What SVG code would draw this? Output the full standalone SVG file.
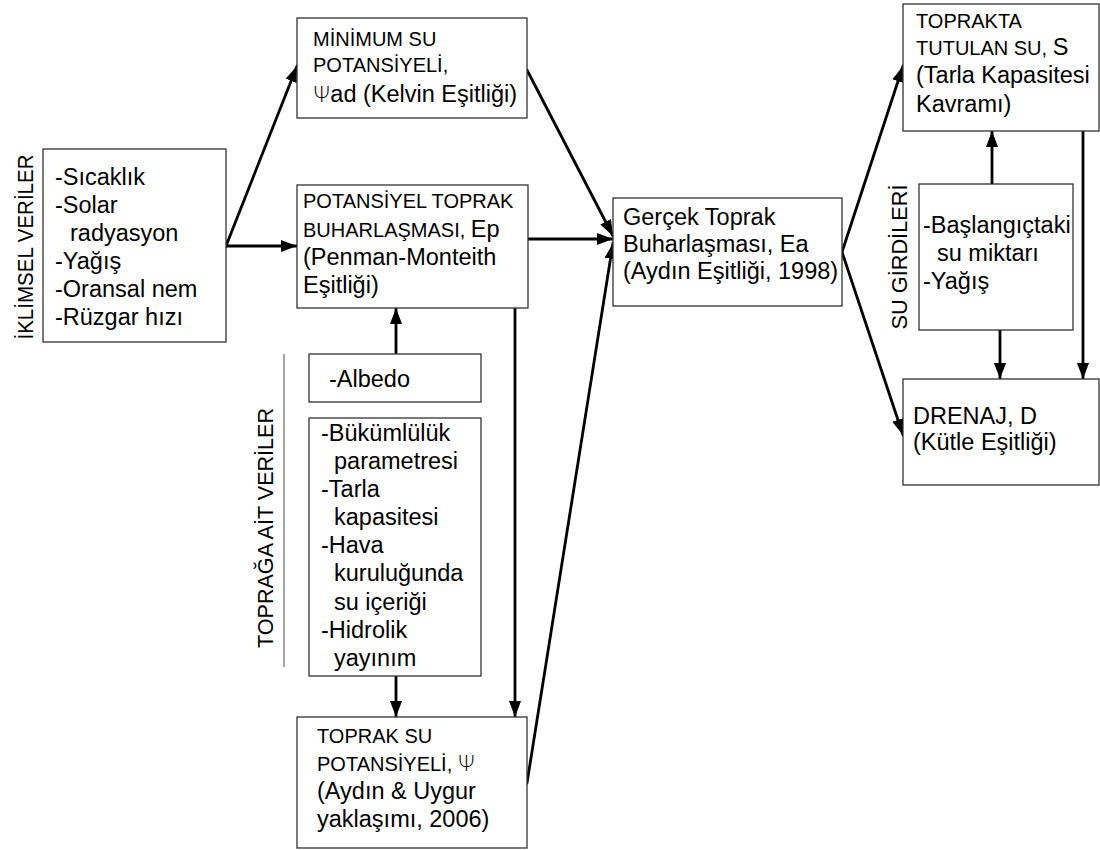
<svg xmlns="http://www.w3.org/2000/svg" width="1100" height="850" viewBox="0 0 1100 850">
<style>
.box{fill:#fff;stroke:#333;stroke-width:1.3}
.t{font-family:"Liberation Sans",Arial,sans-serif;font-size:23.5px;fill:#000}
.c{font-size:20px}
.psi{font-family:"DejaVu Sans","Liberation Sans",sans-serif;font-weight:200;font-size:22px}
.lbl{font-family:"Liberation Sans",Arial,sans-serif;font-size:22px;fill:#000}
.conn{stroke:#000;stroke-width:2.8;fill:none;stroke-linecap:round}
.sep{stroke:#777;stroke-width:1.3}
</style>
<defs>
<marker id="ah" markerUnits="userSpaceOnUse" markerWidth="17" markerHeight="12" refX="16" refY="6" orient="auto"><path d="M0,0 L16,6 L0,12 z" fill="#000"/></marker>
</defs>
<rect width="1100" height="850" fill="#fff"/>

<g id="connectors">
<line class="conn" x1="226" y1="246" x2="297" y2="66" marker-end="url(#ah)"/>
<line class="conn" x1="226" y1="246" x2="297" y2="246" marker-end="url(#ah)"/>
<line class="conn" x1="527" y1="70" x2="613" y2="236" marker-end="url(#ah)"/>
<line class="conn" x1="528" y1="239" x2="613" y2="239" marker-end="url(#ah)"/>
<line class="conn" x1="527" y1="783" x2="613" y2="243" marker-end="url(#ah)"/>
<line class="conn" x1="396" y1="354" x2="396" y2="308" marker-end="url(#ah)"/>
<line class="conn" x1="396" y1="676" x2="396" y2="717" marker-end="url(#ah)"/>
<line class="conn" x1="515" y1="308" x2="515" y2="717" marker-end="url(#ah)"/>
<line class="conn" x1="842" y1="252" x2="903" y2="66" marker-end="url(#ah)"/>
<line class="conn" x1="842" y1="252" x2="903" y2="435" marker-end="url(#ah)"/>
<line class="conn" x1="992" y1="184" x2="992" y2="131" marker-end="url(#ah)"/>
<line class="conn" x1="1000" y1="330" x2="1000" y2="379" marker-end="url(#ah)"/>
<line class="conn" x1="1083" y1="131" x2="1083" y2="379" marker-end="url(#ah)"/>
</g>

<g id="climate">
<rect class="box" x="43" y="149" width="183" height="193"/>
<text class="t" x="55" y="185">-Sıcaklık</text>
<text class="t" x="55" y="213">-Solar</text>
<text class="t" x="70" y="241">radyasyon</text>
<text class="t" x="55" y="269">-Yağış</text>
<text class="t" x="55" y="297">-Oransal nem</text>
<text class="t" x="55" y="325">-Rüzgar hızı</text>
</g>
<g id="climate-label">
<text class="lbl" transform="translate(33,247) rotate(-90)" text-anchor="middle" textLength="185" lengthAdjust="spacingAndGlyphs">İKLİMSEL VERİLER</text>
</g>

<g id="minimum">
<rect class="box" x="297" y="18" width="230" height="100"/>
<text class="t c" x="313" y="46">MİNİMUM SU</text>
<text class="t c" x="313" y="72">POTANSİYELİ,</text>
<text class="t" x="313" y="102"><tspan class="psi">Ψ</tspan>ad (Kelvin Eşitliği)</text>
</g>

<g id="potansiyel">
<rect class="box" x="297" y="185" width="231" height="123"/>
<text class="t c" x="303" y="208">POTANSİYEL TOPRAK</text>
<text class="t" x="303" y="237"><tspan class="c">BUHARLAŞMASI, </tspan>Ep</text>
<text class="t" x="303" y="265">(Penman-Monteith</text>
<text class="t" x="303" y="293">Eşitliği)</text>
</g>

<g id="albedo">
<rect class="box" x="309" y="354" width="172" height="48"/>
<text class="t" x="329" y="387">-Albedo</text>
</g>

<g id="soil">
<rect class="box" x="309" y="418" width="172" height="258"/>
<text class="t" x="321" y="441">-Bükümlülük</text>
<text class="t" x="334" y="469">parametresi</text>
<text class="t" x="321" y="497">-Tarla</text>
<text class="t" x="334" y="525">kapasitesi</text>
<text class="t" x="321" y="553">-Hava</text>
<text class="t" x="334" y="581">kuruluğunda</text>
<text class="t" x="334" y="610">su içeriği</text>
<text class="t" x="321" y="638">-Hidrolik</text>
<text class="t" x="334" y="666">yayınım</text>
</g>
<g id="soil-label">
<line class="sep" x1="284" y1="354" x2="284" y2="667"/>
<text class="lbl" transform="translate(273,528) rotate(-90)" text-anchor="middle" textLength="240" lengthAdjust="spacingAndGlyphs">TOPRAĞA AİT VERİLER</text>
</g>

<g id="toprak-su">
<rect class="box" x="297" y="717" width="230" height="131"/>
<text class="t c" x="317" y="743">TOPRAK SU</text>
<text class="t" x="317" y="771"><tspan class="c">POTANSİYELİ, </tspan><tspan class="psi">Ψ</tspan></text>
<text class="t" x="317" y="799">(Aydın &amp; Uygur</text>
<text class="t" x="317" y="827">yaklaşımı, 2006)</text>
</g>

<g id="gercek">
<rect class="box" x="613" y="198" width="229" height="108"/>
<text class="t" x="623" y="225">Gerçek Toprak</text>
<text class="t" x="623" y="252">Buharlaşması, Ea</text>
<text class="t" x="623" y="279">(Aydın Eşitliği, 1998)</text>
</g>

<g id="toprakta">
<rect class="box" x="903" y="4" width="196" height="127"/>
<text class="t c" x="916" y="28">TOPRAKTA</text>
<text class="t" x="916" y="55"><tspan class="c">TUTULAN SU, </tspan>S</text>
<text class="t" x="916" y="83">(Tarla Kapasitesi</text>
<text class="t" x="916" y="112">Kavramı)</text>
</g>

<g id="su-girdileri">
<rect class="box" x="919" y="184" width="154" height="146"/>
<text class="t" x="923" y="233">-Başlangıçtaki</text>
<text class="t" x="937" y="261">su miktarı</text>
<text class="t" x="923" y="289">-Yağış</text>
</g>
<g id="su-girdileri-label">
<text class="lbl" transform="translate(907,257) rotate(-90)" text-anchor="middle" textLength="145" lengthAdjust="spacingAndGlyphs">SU GİRDİLERİ</text>
</g>

<g id="drenaj">
<rect class="box" x="903" y="379" width="196" height="106"/>
<text class="t" x="913" y="424">DRENAJ, D</text>
<text class="t" x="913" y="450">(Kütle Eşitliği)</text>
</g>
</svg>
